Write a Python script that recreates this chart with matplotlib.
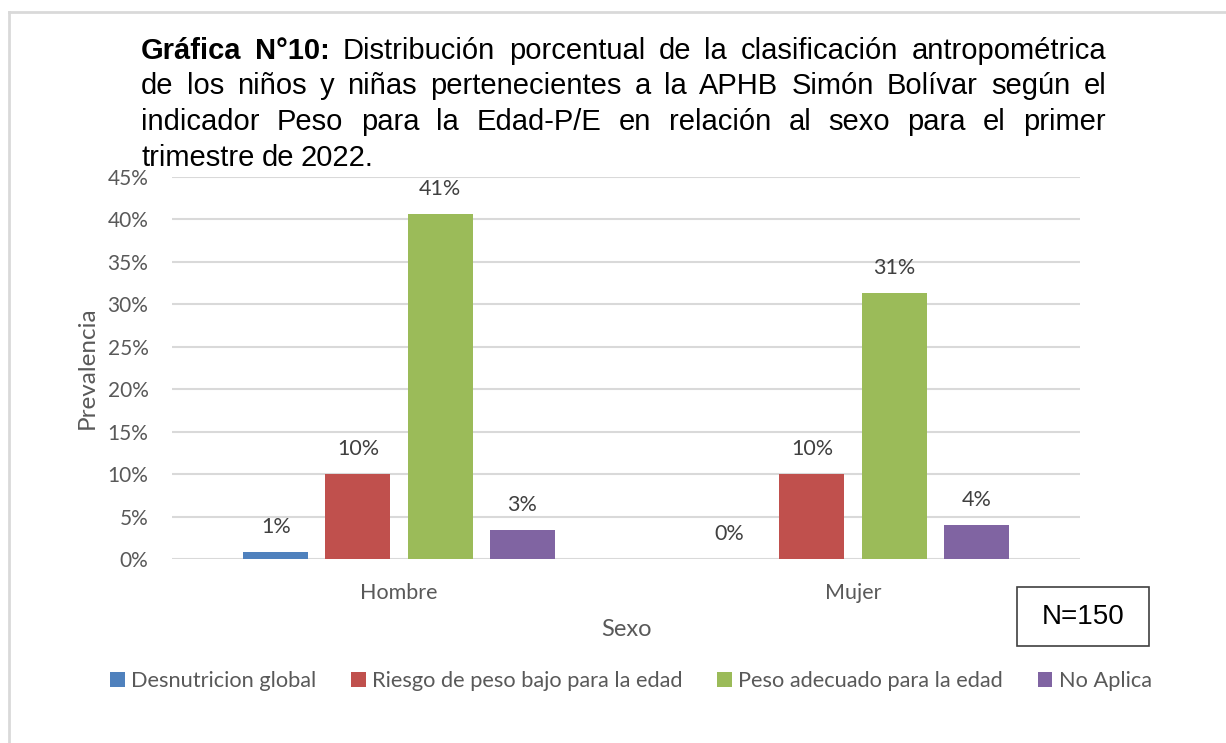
import matplotlib
matplotlib.use("Agg")
import matplotlib.pyplot as plt
from matplotlib.patches import Patch, Rectangle
from matplotlib.lines import Line2D
import numpy as np

# data
categorias = ["Hombre", "Mujer"]
series = ["Desnutricion global", "Riesgo de peso bajo para la edad",
          "Peso adecuado para la edad", "No Aplica"]
valores = {
    "Desnutricion global": [0.8, 0.0],
    "Riesgo de peso bajo para la edad": [10.0, 10.0],
    "Peso adecuado para la edad": [40.6, 31.3],
    "No Aplica": [3.4, 4.0],
}
etiquetas = {
    "Desnutricion global": ["1%", "0%"],
    "Riesgo de peso bajo para la edad": ["10%", "10%"],
    "Peso adecuado para la edad": ["41%", "31%"],
    "No Aplica": ["3%", "4%"],
}
colores = ["#4F81BD", "#C0504D", "#9BBB59", "#8064A2"]
titulo = [
    [("Gráfica", True), ("N°10:", True), ("Distribución", False), ("porcentual", False),
     ("de", False), ("la", False), ("clasificación", False), ("antropométrica", False)],
    [(w, False) for w in "de los niños y niñas pertenecientes a la APHB Simón Bolívar según el".split()],
    [(w, False) for w in "indicador Peso para la Edad-P/E en relación al sexo para el primer".split()],
    [(w, False) for w in "trimestre de 2022.".split()],
]

W, H = 1226, 743
fig = plt.figure(figsize=(W / 100, H / 100), dpi=100)
ax = fig.add_axes([172 / W, 1 - 559 / H, 908 / W, 382 / H])

gris = "#595959"
fuente = "Lato"

x = np.arange(len(categorias))
ancho = 0.143
paso = 0.181
for i, (s, c) in enumerate(zip(series, colores)):
    pos = x + (i - 1.5) * paso
    ax.bar(pos, valores[s], width=ancho, color=c, zorder=3)
    for px, v, t in zip(pos, valores[s], etiquetas[s]):
        ax.text(px, v + 3.0, t, ha="center", va="center", fontsize=15.5,
                color="#404040", family=fuente)

ax.set_xlim(-0.5, 1.5)
ax.set_ylim(0, 45)
ax.set_yticks(np.arange(0, 46, 5))
ax.set_yticklabels([f"{v}%" for v in range(0, 46, 5)], fontsize=15, color=gris, family=fuente)
ax.set_xticks(x)
ax.set_xticklabels(categorias, fontsize=15.5, color=gris, family=fuente)
ax.tick_params(axis="y", length=0, pad=17)
ax.tick_params(axis="x", length=0, pad=17)
ax.grid(axis="y", color="#D9D9D9", linewidth=1.5, zorder=0)
for sp in ax.spines.values():
    sp.set_visible(False)
ax.set_ylabel("Prevalencia", fontsize=17.5, color=gris, family=fuente, labelpad=7)
ax.set_xlabel("Sexo", fontsize=17, color=gris, family=fuente, labelpad=12)

# leyenda
handles = [Patch(facecolor=c, edgecolor="none") for c in colores]
fig.legend(handles, series, loc="center", bbox_to_anchor=(631 / W, 1 - 681 / H), ncol=4,
           frameon=False, handlelength=0.65, handleheight=0.65, handletextpad=0.3,
           columnspacing=1.6, prop={"family": fuente, "size": 15.7}, labelcolor=gris)

# cuadro N=150
fig.patches.append(Rectangle((1017 / W, 1 - 646 / H), 132 / W, 59 / H, transform=fig.transFigure,
                             facecolor="white", edgecolor="#404040", linewidth=1.2))
fig.text(1083 / W, 1 - 617 / H, "N=150", ha="center", va="center", fontsize=20,
         family="Liberation Sans", color="black")

# marco
fig.add_artist(Line2D([9 / W, 1], [1 - 12 / H, 1 - 12 / H], color="#D9D9D9", linewidth=2))
fig.add_artist(Line2D([9 / W, 9 / W], [1 - 12 / H, 0], color="#D9D9D9", linewidth=2))

# titulo justificado
renderer = fig.canvas.get_renderer()
izq, der = 141, 1106
bases = [59, 94, 130, 166]
for n, (linea, yb) in enumerate(zip(titulo, bases)):
    textos = []
    anchos = []
    for palabra, negrita in linea:
        t = fig.text(0, 0, palabra, fontsize=21, family="Liberation Sans",
                     weight="bold" if negrita else "normal", va="baseline", ha="left")
        bb = t.get_window_extent(renderer=renderer)
        textos.append(t)
        anchos.append(bb.width)
    if n < len(titulo) - 1:
        hueco = (der - izq - sum(anchos)) / (len(anchos) - 1)
    else:
        hueco = 7
    xp = izq
    for t, a in zip(textos, anchos):
        t.set_position((xp / W, 1 - yb / H))
        xp += a + hueco

fig.savefig("out.png", dpi=100)
